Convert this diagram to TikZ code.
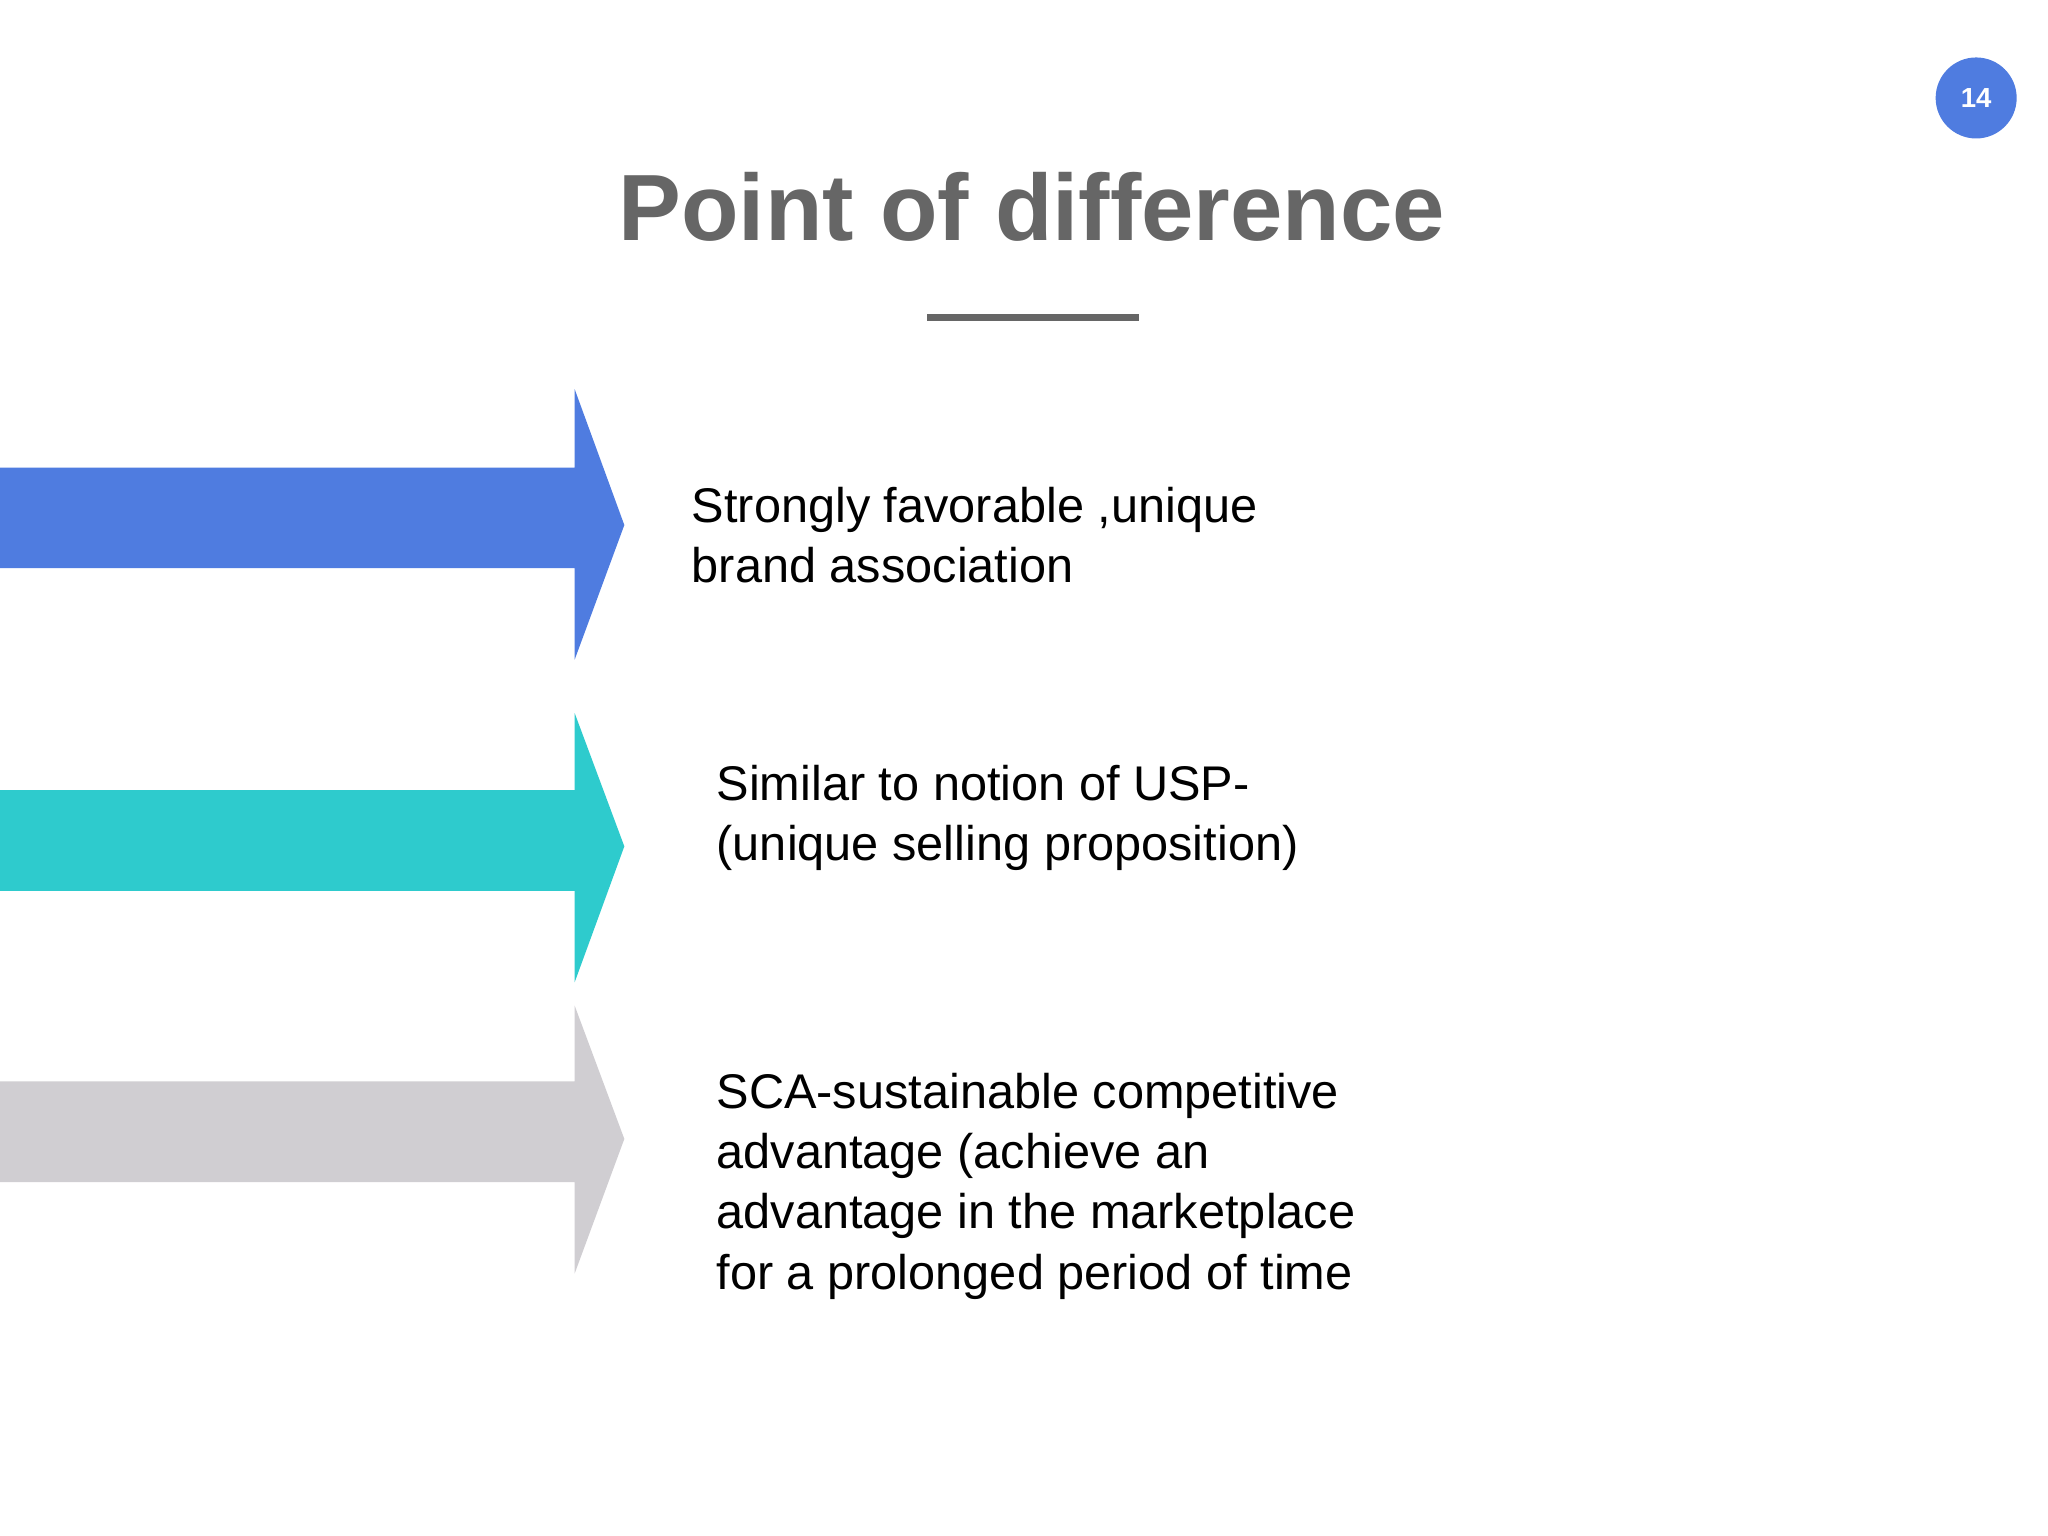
\documentclass[tikz,border=0pt]{standalone}
\usepackage{fontspec}
\setmainfont{Liberation Sans}
\definecolor{cblue}{HTML}{4F7CE0}
\definecolor{cteal}{HTML}{2ECBCD}
\definecolor{cgray}{HTML}{D0CED2}
\definecolor{ctitle}{HTML}{666666}
\begin{document}
\begin{tikzpicture}[x=0.01cm,y=-0.01cm,
  body/.style={anchor=north west,align=left,font=\fontsize{10.6}{13.1}\selectfont,inner sep=0pt}]
\useasboundingbox[fill=white] (0,0) rectangle (1568,1176);
\node[circle,fill=cblue,minimum size=0.62cm,inner sep=0pt,text=white,font=\bfseries\fontsize{6}{7}\selectfont] (pg) at (1513,75) {14};
\node[text=ctitle,font=\bfseries\fontsize{20.5}{24}\selectfont] (title) at (790,158) {Point of difference};
\draw[ctitle,line width=1.4pt] (710,243) -- (872,243);
\fill[cblue] (0,358) -- (440,358) -- (440,298) -- (478,402) -- (440,505) -- (440,435) -- (0,435) -- cycle;
\fill[cteal] (0,605) -- (440,605) -- (440,546) -- (478,648) -- (440,752) -- (440,682) -- (0,682) -- cycle;
\fill[cgray] (0,828) -- (440,828) -- (440,770) -- (478,872) -- (440,975) -- (440,905) -- (0,905) -- cycle;
\node[body] (t1) at (529,372) {Strongly favorable ,unique\\brand association};
\node[body] (t2) at (548,585) {Similar to notion of USP-\\(unique selling proposition)};
\node[body] (t3) at (548,821) {SCA-sustainable competitive\\advantage (achieve an\\advantage in the marketplace\\for a prolonged period of time};
\end{tikzpicture}
\end{document}
